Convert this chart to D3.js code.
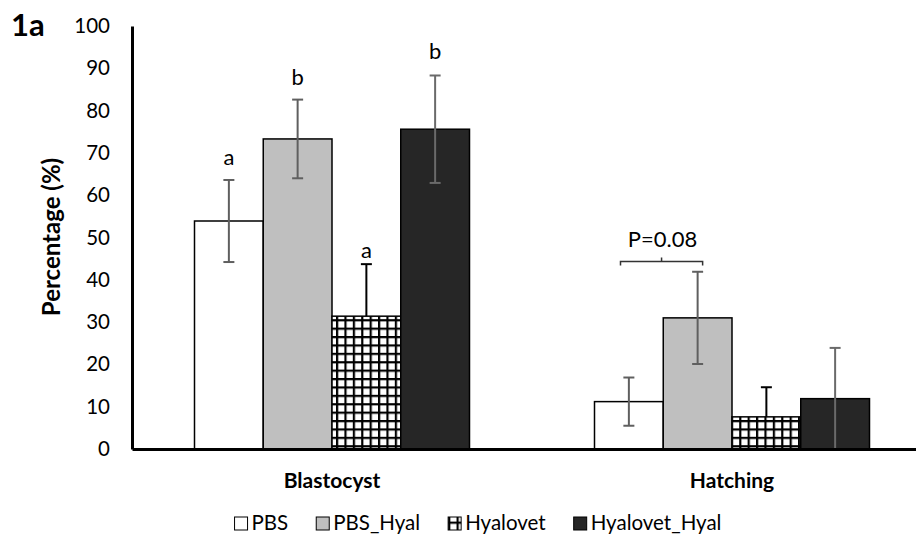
<!DOCTYPE html>
<html>
<head>
<meta charset="utf-8">
<script src="https://cdn.jsdelivr.net/npm/d3@7"></script>
<style>
  body { margin: 0; background: #fff; }
  text { font-family: Lato, "Open Sans", sans-serif; fill: #000; }
</style>
</head>
<body>
<div id="chart"></div>
<script>
// data
const categories = ["Blastocyst", "Hatching"];
const groups = ["PBS", "PBS_Hyal", "Hyalovet", "Hyalovet_Hyal"];
const pbsValues = [53.9, 11.2];
const pbsHyalValues = [73.3, 31.0];
const hyalovetValues = [31.4, 7.6];
const hyalovetHyalValues = [75.6, 11.9];
const pbsErrors = [9.7, 5.7];
const pbsHyalErrors = [9.3, 10.9];
const hyalovetErrors = [12.3, 7.0];
const hyalovetHyalErrors = [12.7, 12.0];
const blastocystLetters = ["a", "b", "a", "b"];
const letterLevels = [69.0, 87.9, 47.0, 94.1];
const yTicks = [0, 10, 20, 30, 40, 50, 60, 70, 80, 90, 100];
const pLabel = "P=0.08";
const pBracketLevel = 44.3;
const pLabelLevel = 49.6;

const valuesByGroup = [pbsValues, pbsHyalValues, hyalovetValues, hyalovetHyalValues];
const errorsByGroup = [pbsErrors, pbsHyalErrors, hyalovetErrors, hyalovetHyalErrors];

let data = [];
categories.forEach(function (c, i) {
    groups.forEach(function (g, j) {
        data.push({ category: c, group: g, value: valuesByGroup[j][i], error: errorsByGroup[j][i] });
    });
});

const width = 916, height = 545;
const plotLeft = 132, plotTop = 26, plotBottom = 449;

const svg = d3.select("#chart").append("svg")
    .attr("width", width)
    .attr("height", height);

const defs = svg.append("defs");
const pat = defs.append("pattern")
    .attr("id", "grid")
    .attr("patternUnits", "userSpaceOnUse")
    .attr("width", 8.4)
    .attr("height", 8.4);
pat.append("rect").attr("width", 8.4).attr("height", 8.4).attr("fill", "#fff");
pat.append("rect").attr("width", 2.2).attr("height", 8.4).attr("fill", "#000");
pat.append("rect").attr("width", 8.4).attr("height", 2.2).attr("fill", "#000");

const colorScale = d3.scaleOrdinal()
    .domain(groups)
    .range(["#ffffff", "#bfbfbf", "url(#grid)", "#262626"]);
const errColor = d3.scaleOrdinal()
    .domain(groups)
    .range(["#5f5f5f", "#5f5f5f", "#000000", "#6a6a6a"]);

const xScale = d3.scaleBand()
    .domain(categories)
    .range([plotLeft, plotLeft + 800]);

const groupWidth = 275;
const x1 = d3.scaleBand()
    .domain(groups)
    .range([(xScale.bandwidth() - groupWidth) / 2, (xScale.bandwidth() + groupWidth) / 2]);

const yScale = d3.scaleLinear()
    .domain([0, 100])
    .range([plotBottom, plotTop]);

const cap = 5.5;
const cx = d => xScale(d.category) + x1(d.group) + x1.bandwidth() / 2;

function drawErrors(sel) {
    const err = svg.selectAll(".err-" + sel)
        .data(data.filter(d => (d.group === "Hyalovet") === (sel === "under")))
        .enter().append("g")
        .attr("class", "err-" + sel)
        .attr("stroke", d => errColor(d.group))
        .attr("stroke-width", 2);
    err.append("line")
        .attr("x1", cx).attr("x2", cx)
        .attr("y1", d => yScale(Math.max(0, d.value - d.error)))
        .attr("y2", d => yScale(d.value + d.error));
    err.append("line")
        .attr("x1", d => cx(d) - cap).attr("x2", d => cx(d) + cap)
        .attr("y1", d => yScale(d.value + d.error))
        .attr("y2", d => yScale(d.value + d.error));
    err.filter(d => d.value - d.error > 0).append("line")
        .attr("x1", d => cx(d) - cap).attr("x2", d => cx(d) + cap)
        .attr("y1", d => yScale(d.value - d.error))
        .attr("y2", d => yScale(d.value - d.error));
}

// the hatched bars cover the lower half of their own error bars
drawErrors("under");

svg.selectAll(".bar")
    .data(data)
    .enter().append("rect")
    .attr("class", "bar")
    .attr("x", d => xScale(d.category) + x1(d.group))
    .attr("y", d => yScale(d.value))
    .attr("width", x1.bandwidth())
    .attr("height", d => yScale(0) - yScale(d.value))
    .attr("fill", d => colorScale(d.group))
    .attr("stroke", "#000")
    .attr("stroke-width", 1.5);

drawErrors("over");

// significance letters
svg.selectAll(".letter")
    .data(groups)
    .enter().append("text")
    .attr("class", "letter")
    .attr("x", g => xScale(categories[0]) + x1(g) + x1.bandwidth() / 2)
    .attr("y", (g, i) => yScale(letterLevels[i]))
    .attr("dy", "0.35em")
    .attr("text-anchor", "middle")
    .style("font-size", "22px")
    .text((g, i) => blastocystLetters[i]);

// bracket for the P value
const bx0 = xScale(categories[1]) + x1(groups[0]) + 26;
const bx1 = xScale(categories[1]) + x1(groups[1]) + x1.bandwidth() / 2 + 5;
const by = yScale(pBracketLevel);
svg.append("path")
    .attr("d", `M${bx0},${by + 4}V${by}H${bx1}V${by + 4}M${(bx0 + bx1) / 2},${by}V${by - 4}`)
    .attr("fill", "none")
    .attr("stroke", "#333")
    .attr("stroke-width", 1.5);
svg.append("text")
    .attr("x", (bx0 + bx1) / 2 + 1)
    .attr("y", yScale(pLabelLevel))
    .attr("dy", "0.35em")
    .attr("text-anchor", "middle")
    .style("font-size", "22px")
    .text(pLabel);

// axes
const yAxis = svg.append("g")
    .attr("transform", "translate(" + plotLeft + ",0)")
    .call(d3.axisLeft(yScale).tickValues(yTicks).tickSize(0).tickPadding(22));
yAxis.select(".domain").attr("stroke", "#000").attr("stroke-width", 3);
yAxis.selectAll(".tick text").style("font-size", "20.5px").style("font-family", "Lato, sans-serif").attr("fill", "#000");

const xAxis = svg.append("g")
    .attr("transform", "translate(0," + plotBottom + ")")
    .call(d3.axisBottom(xScale).tickSize(0).tickPadding(24));
xAxis.select(".domain").attr("stroke", "#000").attr("stroke-width", 3);
xAxis.selectAll(".tick text").style("font-size", "21px").style("font-weight", "bold")
    .style("font-family", "Lato, sans-serif").attr("fill", "#000");

svg.append("text")
    .attr("transform", "translate(52," + 237 + ") rotate(-90)")
    .attr("dy", "0.35em")
    .attr("text-anchor", "middle")
    .style("font-size", "24px")
    .style("font-weight", "bold")
    .text("Percentage (%)");

svg.append("text")
    .attr("x", 11)
    .attr("y", 36)
    .style("font-size", "31px")
    .style("font-weight", "bold")
    .text("1a");

// legend
const legend = svg.append("g").attr("class", "legend");
let lx = 0;
groups.forEach(function (g) {
    const item = legend.append("g").attr("transform", "translate(" + lx + ",0)");
    item.append("rect")
        .attr("x", 0).attr("y", -13)
        .attr("width", 13).attr("height", 13)
        .attr("fill", colorScale(g))
        .attr("stroke", "#000")
        .attr("stroke-width", 1);
    const t = item.append("text")
        .attr("x", 17).attr("y", 0)
        .style("font-size", "20.5px")
        .text(g);
    lx += 17 + t.node().getComputedTextLength() + 28;
});
lx -= 28;
legend.attr("transform", "translate(" + (478 - lx / 2) + ",530)");
</script>
</body>
</html>
